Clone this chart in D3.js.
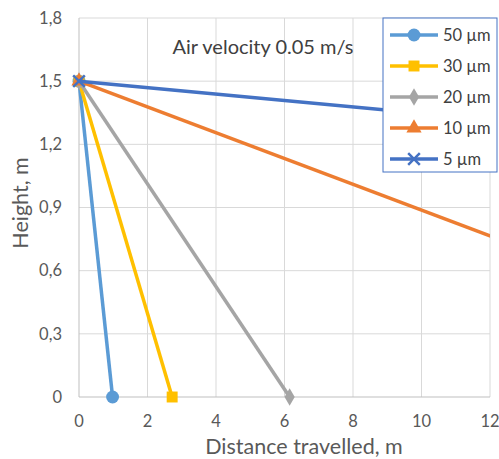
<!DOCTYPE html>
<html>
<head>
<meta charset="utf-8">
<script src="https://cdn.jsdelivr.net/npm/d3@7"></script>
<style>
  body { margin: 0; background: #fff; }
  text { font-family: Lato, "Open Sans", sans-serif; }
</style>
</head>
<body>
<svg id="chart" width="499" height="459"></svg>
<script>
// series: start height 1.5 m, end where the particle reaches the floor
const seriesNames = ['50 µm', '30 µm', '20 µm', '10 µm', '5 µm'];
const seriesColors = ['#5B9BD5', '#FFC000', '#A5A5A5', '#ED7D31', '#4472C4'];
const seriesMarkers = ['circle', 'square', 'diamond', 'triangle', 'cross'];
const startX = [0, 0, 0, 0, 0];
const startY = [1.5, 1.5, 1.5, 1.5, 1.5];
const endX = [0.98, 2.72, 6.15, 24.5, 98];
const endY = [0, 0, 0, 0, 0];
const xTicks = [0, 2, 4, 6, 8, 10, 12];
const yTicks = [0, 0.3, 0.6, 0.9, 1.2, 1.5, 1.8];

const svg = d3.select('#chart');
const margin = {left: 79, right: 9, top: 18, bottom: 62};
const W = 499, H = 459;

const x = d3.scaleLinear().domain([0, 12]).range([margin.left, W - margin.right]);
const y = d3.scaleLinear().domain([0, 1.8]).range([H - margin.bottom, margin.top]);

// gridlines
svg.append('g').selectAll('line')
    .data(yTicks.slice(1))
    .enter().append('line')
    .attr('x1', x(0)).attr('x2', x(12))
    .attr('y1', d => y(d)).attr('y2', d => y(d))
    .attr('stroke', '#D9D9D9').attr('stroke-width', 1);
svg.append('g').selectAll('line')
    .data(xTicks.slice(1))
    .enter().append('line')
    .attr('x1', d => x(d)).attr('x2', d => x(d))
    .attr('y1', y(0)).attr('y2', y(1.8))
    .attr('stroke', '#D9D9D9').attr('stroke-width', 1);

// axes lines
svg.append('line').attr('x1', x(0)).attr('x2', x(0)).attr('y1', y(0)).attr('y2', y(1.8))
    .attr('stroke', '#BFBFBF');
svg.append('line').attr('x1', x(0)).attr('x2', x(12)).attr('y1', y(0)).attr('y2', y(0))
    .attr('stroke', '#BFBFBF');

// tick labels
svg.append('g').selectAll('text')
    .data(yTicks)
    .enter().append('text')
    .attr('x', 62).attr('y', d => y(d))
    .attr('dy', '0.35em')
    .attr('text-anchor', 'end')
    .attr('font-size', 16.5).attr('fill', '#595959')
    .text(d => d3.format('.1f')(d).replace('.', ',').replace(/,0$/, ''));
svg.append('g').selectAll('text')
    .data(xTicks)
    .enter().append('text')
    .attr('x', d => x(d)).attr('y', 427)
    .attr('text-anchor', 'middle')
    .attr('font-size', 16.5).attr('fill', '#595959')
    .text(d => d);

// axis titles
svg.append('text').attr('x', 304).attr('y', 454)
    .attr('text-anchor', 'middle').attr('font-size', 21.5).attr('fill', '#595959')
    .text('Distance travelled, m');
svg.append('text').attr('transform', 'translate(28,203) rotate(-90)')
    .attr('text-anchor', 'middle').attr('font-size', 21.5).attr('fill', '#595959')
    .text('Height, m');

// clip the plot area
svg.append('clipPath').attr('id', 'plot')
    .append('rect').attr('x', x(0) - 10).attr('y', y(1.8))
    .attr('width', x(12) - x(0) + 10).attr('height', y(0) - y(1.8) + 10);

const plot = svg.append('g').attr('clip-path', 'url(#plot)');

const symbolFor = {
    circle: d3.symbolCircle,
    square: d3.symbolSquare,
    diamond: d3.symbolDiamond,
    triangle: d3.symbolTriangle,
    cross: d3.symbolX
};
const sizeFor = {circle: 130, square: 120, diamond: 90, triangle: 100, cross: 90};

function drawMarker(g, kind, color, px, py) {
    const p = g.append('path')
        .attr('d', d3.symbol().type(symbolFor[kind]).size(sizeFor[kind])())
        .attr('transform', 'translate(' + px + ',' + py + ')');
    if (kind === 'cross') {
        p.attr('fill', 'none').attr('stroke', color).attr('stroke-width', 2.5);
    } else {
        p.attr('fill', color);
    }
}

const line = d3.line().x(d => x(d[0])).y(d => y(d[1]));

seriesNames.forEach((name, i) => {
    const pts = [[startX[i], startY[i]], [endX[i], endY[i]]];
    plot.append('path')
        .attr('d', line(pts))
        .attr('fill', 'none')
        .attr('stroke', seriesColors[i])
        .attr('stroke-width', 3.5);
    pts.forEach(p => drawMarker(plot, seriesMarkers[i], seriesColors[i], x(p[0]), y(p[1])));
});

// annotation
svg.append('text').attr('x', 263).attr('y', 54)
    .attr('text-anchor', 'middle').attr('font-size', 20).attr('fill', '#404040')
    .text('Air velocity 0.05 m/s');

// legend
const legend = svg.append('g').attr('transform', 'translate(383,18)');
legend.append('rect').attr('x', 0).attr('y', 0).attr('width', 114).attr('height', 154)
    .attr('fill', '#fff').attr('stroke', '#4472C4').attr('stroke-width', 1);
seriesNames.forEach((name, i) => {
    const ly = 17 + i * 31;
    legend.append('line').attr('x1', 7).attr('x2', 55).attr('y1', ly).attr('y2', ly)
        .attr('stroke', seriesColors[i]).attr('stroke-width', 3.5);
    drawMarker(legend, seriesMarkers[i], seriesColors[i], 31, ly);
    legend.append('text').attr('x', 60).attr('y', ly).attr('dy', '0.35em')
        .attr('font-size', 16.5).attr('fill', '#404040')
        .text(name);
});
</script>
</body>
</html>
